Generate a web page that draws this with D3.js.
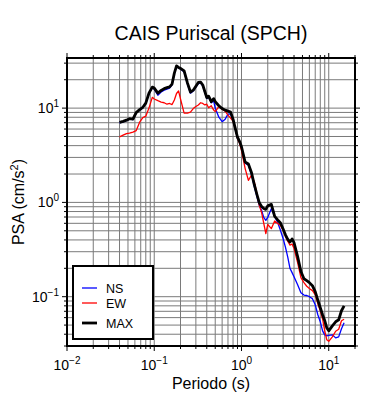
<!DOCTYPE html>
<html>
<head>
<meta charset="utf-8">
<script src="https://cdn.jsdelivr.net/npm/d3@7"></script>
<style>
  body { margin: 0; background: #fff; }
  svg text { font-family: "Liberation Sans", Arial, Helvetica, sans-serif; fill: #000; }
</style>
</head>
<body>
<svg id="chart"></svg>
<script>
// periods (s)
const periods = [0.040, 0.044, 0.048, 0.052, 0.057, 0.062, 0.068, 0.074, 0.080, 0.087, 0.095,
  0.10, 0.11, 0.12, 0.13, 0.14, 0.15, 0.16, 0.17, 0.18, 0.19, 0.20, 0.22, 0.24, 0.26, 0.28,
  0.30, 0.32, 0.34, 0.36, 0.38, 0.40, 0.42, 0.45, 0.48, 0.50, 0.55, 0.60, 0.65, 0.70, 0.75,
  0.80, 0.85, 0.90, 0.95, 1.0, 1.1, 1.2, 1.3, 1.4, 1.5, 1.6, 1.7, 1.8, 1.9, 2.0, 2.2, 2.4,
  2.6, 2.8, 3.0, 3.2, 3.4, 3.6, 3.8, 4.0, 4.4, 4.8, 5.2, 5.6, 6.0, 6.5, 7.0, 7.5, 8.0, 8.5,
  9.0, 9.5, 10, 11, 12, 13, 14, 15]

// PSA (cm/s^2)
const ns = [6.96, 7.14, 7.36, 7.64, 7.55, 8.85, 9.52, 10.1, 11.2, 14.3, 16.5,
  15.9, 13.7, 14.8, 15.5, 15.9, 16.3, 17.6, 23.3, 27.6, 26.7, 26.0, 24.2, 18.0, 14.4, 15.2,
  16.7, 18.2, 18.5, 17.1, 14.6, 12.6, 13.1, 11.4, 11.9, 10.0, 8.02, 7.18, 7.64, 8.63, 8.63,
  7.45, 5.90, 4.80, 4.35, 3.80, 2.60, 2.48, 1.99, 1.48, 1.16, 0.929, 0.822, 0.692, 0.644, 0.692, 0.863, 0.71,
  0.612, 0.504, 0.414, 0.332, 0.260, 0.199, 0.180, 0.163, 0.134, 0.110, 0.104, 0.103, 0.100, 0.0953, 0.0822, 0.0644, 0.0542, 0.0434,
  0.0394, 0.0385, 0.0389, 0.0394, 0.0366, 0.0375, 0.0457, 0.0528]

const ew = [4.95, 5.16, 5.37, 5.42, 5.56, 5.77, 7.10, 7.93, 8.22, 10.0, 13.0,
  12.5, 12.0, 11.6, 11.4, 11.0, 11.2, 10.9, 12.2, 14.3, 15.2, 12.5, 8.85, 8.85, 9.07, 9.88,
  10.4, 10.8, 11.4, 11.2, 10.8, 11.0, 10.1, 10.6, 9.52, 9.18, 10.4, 9.75, 9.29, 8.43, 7.83,
  7.28, 5.98, 4.80, 4.25, 3.57, 2.30, 1.71, 1.94, 1.67, 1.25, 0.929, 0.783, 0.598, 0.468, 0.583, 0.528, 0.635,
  0.598, 0.569, 0.504, 0.435, 0.385, 0.353, 0.362, 0.324, 0.230, 0.159, 0.141, 0.129, 0.122, 0.116, 0.105, 0.0843, 0.0710, 0.0583,
  0.0434, 0.0349, 0.0336, 0.0375, 0.0430, 0.0451, 0.0556, 0.0577]

const maxv = [7.05, 7.24, 7.45, 7.73, 7.64, 8.96, 9.64, 10.2, 11.3, 14.4, 16.7,
  16.3, 14.4, 15.4, 16.1, 16.5, 16.8, 18.0, 23.5, 28.0, 27.0, 26.4, 24.8, 18.5, 14.8, 15.5,
  17.1, 18.7, 18.9, 17.6, 15.0, 12.9, 13.4, 11.7, 12.6, 11.7, 10.6, 9.88, 9.52, 9.29, 9.07,
  7.64, 6.05, 4.91, 4.45, 3.89, 2.68, 2.56, 2.08, 1.55, 1.22, 0.99, 0.906, 0.863, 0.843, 0.918, 0.953, 0.71,
  0.652, 0.605, 0.522, 0.451, 0.404, 0.380, 0.409, 0.375, 0.267, 0.185, 0.155, 0.148, 0.141, 0.131, 0.113, 0.0918, 0.0764, 0.0644,
  0.0556, 0.0468, 0.0434, 0.0491, 0.0542, 0.0569, 0.071, 0.080]

const seriesList = [
  { name: "NS", values: ns, color: "#0000ff", width: 1.3 },
  { name: "EW", values: ew, color: "#ff0000", width: 1.3 },
  { name: "MAX", values: maxv, color: "#000000", width: 2.8 }
]

const xDecades = [-2, -1, 0, 1]
const yDecades = [-1, 0, 1]

const W = 390, H = 400
const margin = { top: 58, right: 35, bottom: 54, left: 67 }
const width = W - margin.left - margin.right
const height = H - margin.top - margin.bottom

const svg = d3.select("#chart").attr("width", W).attr("height", H)

const x = d3.scaleLog().domain([0.01, 20]).range([0, width])
const y = d3.scaleLog().domain([0.03, 34]).range([height, 0])

const g = svg.append("g").attr("transform", "translate(" + margin.left + "," + margin.top + ")")

// minor values (1..9 x decade) inside domain
const logVals = (dom) => {
  const out = []
  for (let e = -3; e <= 2; e++) {
    for (let m = 1; m <= 9; m++) {
      const v = m * Math.pow(10, e)
      if (v >= dom[0] * 0.9999 && v <= dom[1] * 1.0001) out.push({ v: v, major: m === 1 })
    }
  }
  return out
}
const xv = logVals(x.domain())
const yv = logVals(y.domain())

// grid
g.append("g").selectAll("line").data(xv).enter().append("line")
  .attr("x1", d => x(d.v)).attr("x2", d => x(d.v))
  .attr("y1", 0).attr("y2", height)
  .attr("stroke", "#7a7a7a").attr("stroke-width", 1)
g.append("g").selectAll("line").data(yv).enter().append("line")
  .attr("y1", d => y(d.v)).attr("y2", d => y(d.v))
  .attr("x1", 0).attr("x2", width)
  .attr("stroke", "#7a7a7a").attr("stroke-width", 1)

// series
const line = d3.line()
  .x((d, i) => x(periods[i]))
  .y(d => y(d))

seriesList.forEach(s => {
  g.append("path")
    .datum(s.values)
    .attr("fill", "none")
    .attr("stroke", s.color)
    .attr("stroke-width", s.width)
    .attr("stroke-linejoin", "round")
    .attr("d", line)
})

// ticks on all four sides, outward
const tickG = g.append("g").attr("stroke", "#000").attr("stroke-width", 1)
xv.forEach(d => {
  const len = d.major ? 5 : 3
  tickG.append("line").attr("x1", x(d.v)).attr("x2", x(d.v)).attr("y1", 0).attr("y2", -len)
  tickG.append("line").attr("x1", x(d.v)).attr("x2", x(d.v)).attr("y1", height).attr("y2", height + len)
})
yv.forEach(d => {
  const len = d.major ? 5 : 3
  tickG.append("line").attr("y1", y(d.v)).attr("y2", y(d.v)).attr("x1", 0).attr("x2", -len)
  tickG.append("line").attr("y1", y(d.v)).attr("y2", y(d.v)).attr("x1", width).attr("x2", width + len)
})

// frame
g.append("rect")
  .attr("x", 0).attr("y", 0).attr("width", width).attr("height", height)
  .attr("fill", "none").attr("stroke", "#000").attr("stroke-width", 2)

const sup = (sel, e) => {
  sel.append("tspan").text("10")
  sel.append("tspan").attr("dy", -6).attr("font-size", 10).text(e < 0 ? "\u2212" + (-e) : String(e))
}

// x tick labels
xDecades.forEach(e => {
  const t = g.append("text")
    .attr("x", x(Math.pow(10, e)))
    .attr("y", height + 24)
    .attr("text-anchor", "middle")
    .attr("font-size", 14)
  sup(t, e)
})

// y tick labels
yDecades.forEach(e => {
  const t = g.append("text")
    .attr("x", -8)
    .attr("y", y(Math.pow(10, e)) + 5)
    .attr("text-anchor", "end")
    .attr("font-size", 14)
  sup(t, e)
})

// title and axis titles
svg.append("text")
  .attr("x", margin.left + width / 2).attr("y", 40)
  .attr("text-anchor", "middle").attr("font-size", 19.5)
  .text("CAIS Puriscal (SPCH)")

svg.append("text")
  .attr("x", margin.left + width / 2).attr("y", 389)
  .attr("text-anchor", "middle").attr("font-size", 16)
  .text("Periodo (s)")

const yl = svg.append("text")
  .attr("transform", "translate(24," + (margin.top + height / 2) + ") rotate(-90)")
  .attr("text-anchor", "middle").attr("font-size", 16)
yl.append("tspan").text("PSA (cm/s")
yl.append("tspan").attr("dy", -6).attr("font-size", 11).text("2")
yl.append("tspan").attr("dy", 6).text(")")

// legend
const lg = svg.append("g").attr("transform", "translate(73,266)")
lg.append("rect").attr("width", 80).attr("height", 73)
  .attr("fill", "#fff").attr("stroke", "#000").attr("stroke-width", 2)
const legendY = [22, 37, 57]
seriesList.forEach((s, i) => {
  lg.append("line")
    .attr("x1", 9).attr("x2", 24)
    .attr("y1", legendY[i]).attr("y2", legendY[i])
    .attr("stroke", s.color).attr("stroke-width", s.width)
  lg.append("text")
    .attr("x", 33).attr("y", legendY[i] + 5)
    .attr("font-size", 12.5)
    .text(s.name)
})
</script>
</body>
</html>
